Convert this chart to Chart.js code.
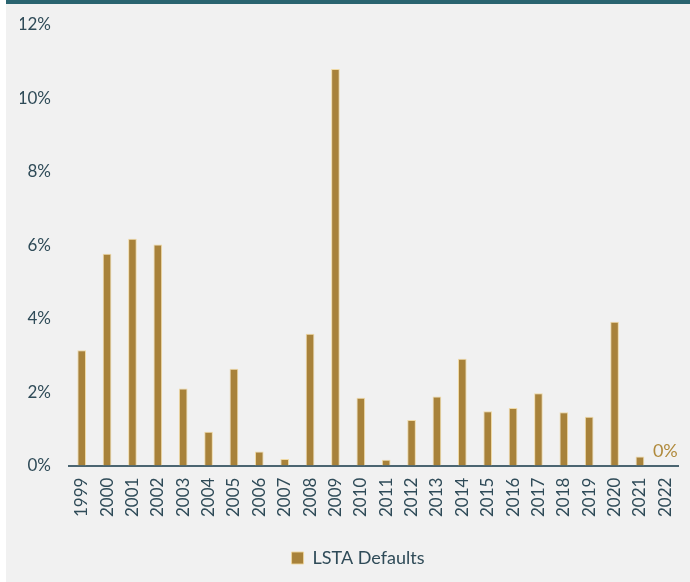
<!DOCTYPE html>
<html>
<head>
<meta charset="utf-8">
<script src="https://cdn.jsdelivr.net/npm/chart.js@4/dist/chart.umd.min.js"></script>
<style>
  html, body { margin: 0; padding: 0; background: #ffffff; }
  #quadro {
    position: absolute; left: 6px; top: 0; width: 684px; height: 578px;
    background: #f1f1f1; border-top: 4px solid #2a6470;
  }
  #quadro canvas { display: block; }
</style>
</head>
<body>
<div id="quadro"><canvas id="grafico" width="684" height="578"></canvas></div>
<script>
// dados
const anos = ["1999", "2000", "2001", "2002", "2003", "2004", "2005", "2006", "2007", "2008", "2009", "2010",
    "2011", "2012", "2013", "2014", "2015", "2016", "2017", "2018", "2019", "2020", "2021", "2022"];
const defaultsLsta = [3.14, 5.77, 6.18, 6.02, 2.10, 0.92, 2.64, 0.38, 0.18, 3.59, 10.80, 1.85,
    0.16, 1.24, 1.88, 2.91, 1.48, 1.57, 1.97, 1.45, 1.33, 3.92, 0.25, 0];
const eixoY = { min: 0, max: 12, passo: 2 };
const rotuloFinal = "0%"; // anotação do último ano

const corBarra = "#a8823a";
const corTexto = "#2f4b58";
const fonte = "Lato, 'Open Sans', sans-serif";

// escreve o "0%" em cima do último ano
const pluginRotulo = {
    id: "rotuloFinal",
    afterDatasetsDraw(chart) {
        const { ctx, scales } = chart;
        const i = anos.length - 1;
        const x = scales.x.getPixelForValue(i);
        const y = scales.y.getPixelForValue(defaultsLsta[i]);
        ctx.save();
        ctx.fillStyle = "#b08a3c";
        ctx.font = "18px " + fonte;
        ctx.textAlign = "center";
        ctx.textBaseline = "alphabetic";
        ctx.fillText(rotuloFinal, x, y - 9);
        ctx.restore();
    }
};

const ctx = document.getElementById("grafico").getContext("2d");
new Chart(ctx, {
    type: "bar",
    data: {
        labels: anos,
        datasets: [{
            label: "LSTA Defaults",
            data: defaultsLsta,
            backgroundColor: corBarra,
            borderColor: "rgba(238, 214, 156, 0.9)",
            borderWidth: 1,
            borderSkipped: "bottom",
            categoryPercentage: 1,
            barPercentage: 0.34,
        }],
    },
    options: {
        responsive: false,
        animation: false,
        // direita negativa só pra deslocar a legenda, a área do gráfico fica pelo paddingRight do eixo x
        layout: { padding: { left: 14, right: -6, top: 21, bottom: 5 } },
        scales: {
            x: {
                grid: { display: false, drawTicks: false },
                border: { display: true, color: "#4b6571", width: 2 },
                afterFit: escala => { escala.paddingRight = 12; },
                ticks: {
                    color: corTexto,
                    font: { family: fonte, size: 17 },
                    minRotation: 90, maxRotation: 90,
                    padding: 12,
                    autoSkip: false,
                },
            },
            y: {
                min: eixoY.min, max: eixoY.max,
                grid: { display: false, drawTicks: false },
                border: { display: false },
                afterFit: escala => {
                    escala.width = 49;
                    escala.paddingTop = 0;
                    escala.paddingBottom = 0;
                },
                ticks: {
                    stepSize: eixoY.passo,
                    color: corTexto,
                    font: { family: fonte, size: 17 },
                    padding: 18,
                    callback: v => v + "%",
                },
            },
        },
        plugins: {
            legend: {
                position: "bottom",
                labels: {
                    color: corTexto,
                    font: { family: fonte, size: 18 },
                    boxWidth: 12, boxHeight: 12,
                    padding: 20,
                },
            },
            tooltip: { enabled: false },
        },
    },
    plugins: [pluginRotulo],
});
</script>
</body>
</html>
